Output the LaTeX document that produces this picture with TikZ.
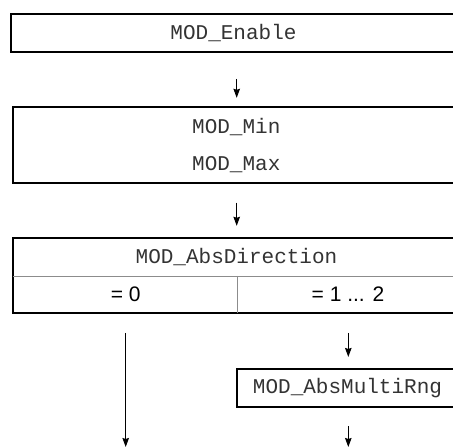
\documentclass[tikz,border=0pt]{standalone}
\usepackage{fontspec}
\setmainfont{Liberation Sans}
\newfontfamily\monofont{Liberation Mono}
\usetikzlibrary{arrows.meta,calc}
\tikzset{
  box/.style={draw=black, line width=2pt, rectangle, inner sep=0pt, anchor=center},
  mono/.style={font=\monofont\fontsize{21}{24}\selectfont, text=black!80, inner sep=0pt},
  sans/.style={font=\fontsize{21}{24}\selectfont, text=black, inner sep=0pt},
  divline/.style={draw=black!45, line width=0.9pt},
  flow/.style={draw=black, line width=1pt, -{Stealth[length=9pt,width=6.5pt,inset=1pt]}},
}
\begin{document}
\begin{tikzpicture}[x=1pt,y=1pt]
\useasboundingbox (0,0) rectangle (453,447);
\clip (0,0) rectangle (453,447);
% box 1
\node[box, minimum width=446pt, minimum height=37.8pt] (b1) at (234,413.6) {};
\node[mono] (t1) at (233.5,413.6) {MOD\_Enable};
% box 2
\node[box, minimum width=445.4pt, minimum height=75.4pt] (b2) at (236,302) {};
\node[mono] (t2a) at (236.3,320) {MOD\_Min};
\node[mono] (t2b) at (236.3,282) {MOD\_Max};
% box 3
\node[box, minimum width=445.4pt, minimum height=75pt] (b3) at (236,171.2) {};
\coordinate (d1) at (13.3,171);
\coordinate (d2) at (460,171);
\coordinate (v1) at (237.3,171);
\coordinate (v2) at (237.3,133.7);
\draw[divline] (d1) -- (d2);
\draw[divline] (v1) -- (v2);
\node[mono] (t3) at (236.5,189.5) {MOD\_AbsDirection};
\node[sans] (s0) at (125.7,152.5) {= 0};
\node[sans] (s1) at (348,152.5) {= 1 ... 2};
% box 4
\node[box, minimum width=221.6pt, minimum height=37.7pt] (b4) at (347.5,59.2) {};
\node[mono] (t4) at (347.5,59.2) {MOD\_AbsMultiRng};
% arrows
\draw[flow, shorten <=25.5pt, shorten >=8.5pt] (b1.south -| 236.7,0) -- (b2.north -| 236.7,0);
\draw[flow, shorten <=19pt, shorten >=11.5pt] (b2.south -| 236.7,0) -- (b3.north -| 236.7,0);
\coordinate (e1) at (125.7,0);
\coordinate (e2) at (348.3,0);
\draw[flow, shorten <=18.5pt] (b3.south -| e1) -- (e1);
\draw[flow, shorten <=18.5pt, shorten >=11pt] (b3.south -| e2) -- (b4.north -| e2);
\draw[flow, shorten <=18.5pt] (b4.south -| e2) -- (e2);
\end{tikzpicture}
\end{document}
